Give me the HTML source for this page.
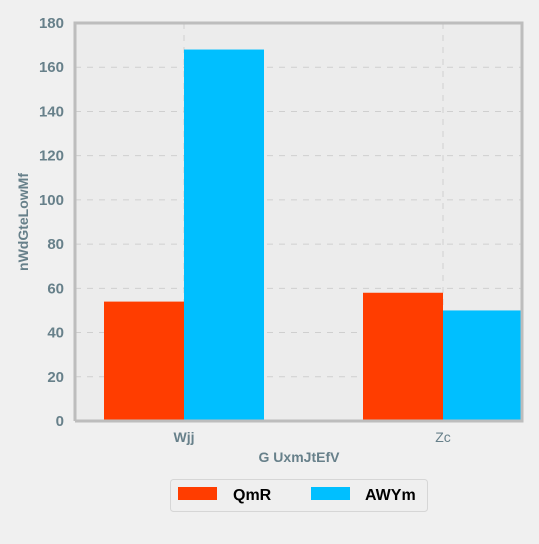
<!DOCTYPE html>
<html><head><meta charset="utf-8"><style>
body{margin:0;background:#f0f0f0;width:539px;height:539px;overflow:hidden;font-family:"Liberation Sans",sans-serif}
</style></head><body>
<svg width="539" height="539">
<rect x="0" y="0" width="539" height="539" fill="#f0f0f0"/>
<rect x="75" y="23" width="447" height="398" fill="#ececec"/>
<g id="grid"></g>
<g id="bars"></g>
<path d="M75,421 V23 H522 V421 H75" fill="none" stroke="#bdbdbd" stroke-width="3"/>
<g id="yticks"></g>
<g id="xticks"></g>
<text x="299" y="462" text-anchor="middle" font-size="14" font-weight="bold" fill="#67808a">G UxmJtEfV</text>
<text transform="translate(28,222) rotate(-90)" text-anchor="middle" font-size="14" font-weight="bold" fill="#67808a">nWdGteLowMf</text>
<g>
<rect x="170.5" y="479.5" width="257" height="32" rx="3" fill="#efefef" stroke="#d6d6d6"/>
<rect x="178" y="487" width="39" height="13" fill="#ff3d00"/>
<text x="233" y="500" font-size="16" font-weight="bold" fill="#000">QmR</text>
<rect x="311" y="487" width="39" height="13" fill="#00bfff"/>
<text x="365" y="500" font-size="16" font-weight="bold" fill="#000">AWYm</text>
</g>
</svg>
<script>
const categories=["Wjj","Zc"];
const seriesQmR=[54,58];
const seriesAWYm=[168,50];
const yTicks=[0,20,40,60,80,100,120,140,160,180];
const NS="http://www.w3.org/2000/svg";
const L=75,R=522,T=23,B=421,ymax=180;
const y=v=>B-(v/ymax)*(B-T);
const bw=(R-L)/categories.length;
const cx=i=>L+bw*(i+0.5)-(i===0?40:-40)*0+ (i===0?-40.5:0)+(i===1?-37:0)+40;
function mk(tag,attrs,parent){const e=document.createElementNS(NS,tag);for(const k in attrs)e.setAttribute(k,attrs[k]);document.getElementById(parent).appendChild(e);return e;}
// category centers: plot spans 75..522; category centers at 184 and 443
const center=i=>184+i*(443-184);
yTicks.forEach(t=>{
 if(t>0&&t<ymax){const g=mk('line',{x1:L,x2:R,y1:y(t),y2:y(t),stroke:'#cfcfcf','stroke-dasharray':'6,6'},'grid');
 
 }
 const tx=mk('text',{x:64,y:y(t)+5,'text-anchor':'end','font-size':'15','font-weight':'bold',fill:'#67808a'},'yticks');
 tx.textContent=t;
 
 
});
categories.forEach((c,i)=>{
 const g=mk('line',{x1:center(i),x2:center(i),y1:T,y2:B,stroke:'#cfcfcf','stroke-dasharray':'6,6'},'grid');
 
 
 const a=mk('rect',{x:center(i)-80,y:y(seriesQmR[i]),width:80,height:B-y(seriesQmR[i]),fill:'#ff3d00'},'bars');
 
 
 const b=mk('rect',{x:center(i),y:y(seriesAWYm[i]),width:Math.min(80,R-center(i)),height:B-y(seriesAWYm[i]),fill:'#00bfff'},'bars');
 
 
 const t=mk('text',{x:center(i),y:442,'text-anchor':'middle','font-size':'14','font-weight':i===0?'bold':'normal',fill:'#67808a'},'xticks');
 t.textContent=c;
 
 
});
</script>
</body></html>
